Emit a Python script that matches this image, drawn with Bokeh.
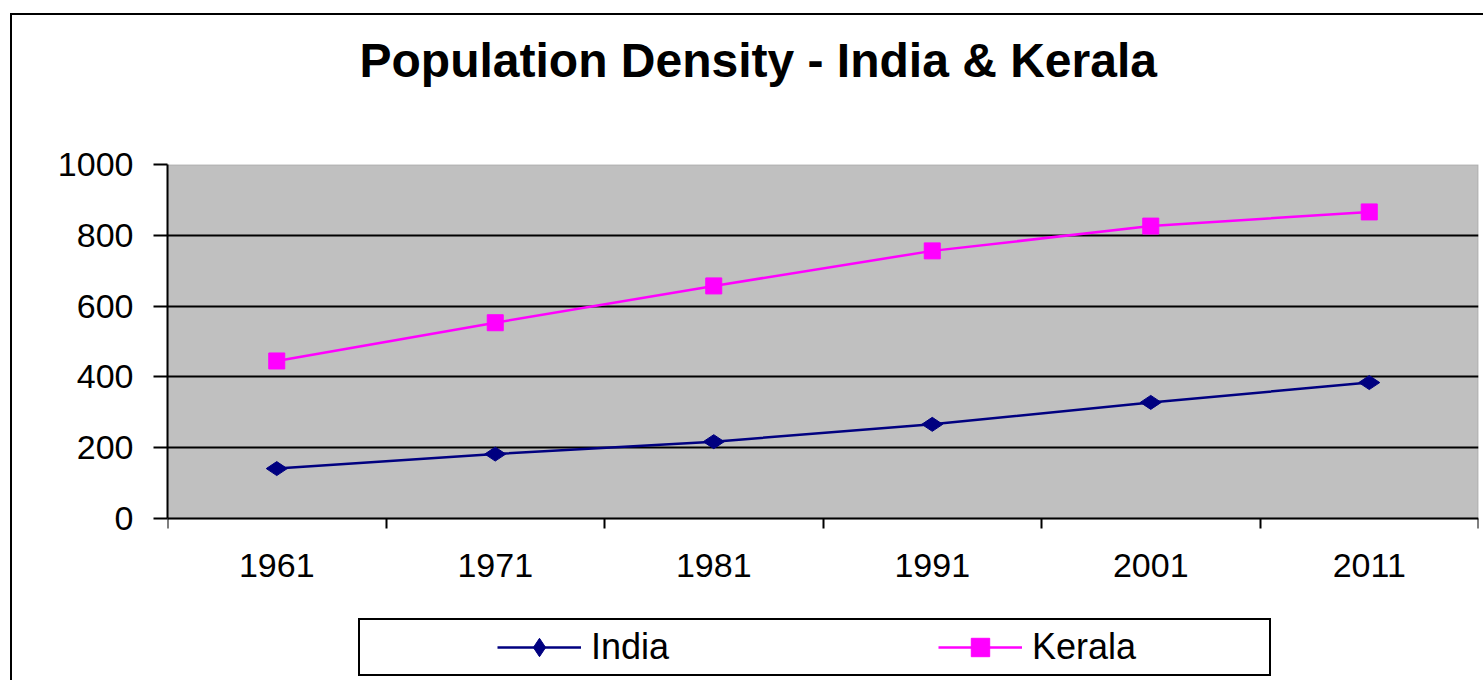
import math
from bokeh.plotting import figure
from bokeh.models import FixedTicker, Legend, LegendItem, Range1d, BoxAnnotation, Title
from bokeh.embed import file_html
from bokeh.resources import INLINE

years = ["1961", "1971", "1981", "1991", "2001", "2011"]
india = [141, 182, 217, 266, 328, 384]
kerala = [445, 553, 657, 756, 826, 866]
y_ticks = [0, 200, 400, 600, 800, 1000]
grid_ticks = [200, 400, 600, 800]
title_text = "Population Density - India & Kerala"

FONT = "Liberation Sans"
W, H = 1483, 680
# frame runs from the plot-area top to the bottom of the canvas; the value axis
# keeps 0..1000 on the grey plot area, the lower band holds the category labels and legend
Y_LOW = -457.6

p = figure(width=W, height=H, output_backend="svg", toolbar_location=None,
           x_range=Range1d(0, len(years)), y_range=Range1d(Y_LOW, y_ticks[-1]),
           min_border_left=167, min_border_right=5, min_border_top=164, min_border_bottom=0)

# outer chart-area border (left/top edges visible, right/bottom beyond the window)
p.border_fill_alpha = 0
p.background_fill_alpha = 0
p.outline_line_alpha = 0
p.styles = {"box-shadow": "inset 10px 13px 0 0 white, inset 12px 15px 0 0 black",
            "background-color": "white"}

xs = [i + 0.5 for i in range(len(years))]

# grey plot area
p.add_layout(BoxAnnotation(left=0, right=len(years), bottom=y_ticks[0], top=y_ticks[-1],
                           fill_color="#C0C0C0", fill_alpha=1,
                           line_color="#808080", line_width=2, level="image"))

p.xgrid.visible = False
p.ygrid.ticker = FixedTicker(ticks=grid_ticks)
p.ygrid.grid_line_color = "black"
p.ygrid.grid_line_width = 2

# title (spacer keeps it up near the top edge)
p.add_layout(Title(text="\u00a0", text_font_size="1px", standoff=75), "above")
p.title.text = title_text
p.title.align = "left"
p.title.vertical_align = "bottom"
p.title.offset = 192
p.title.standoff = 0
p.title.text_font = FONT
p.title.text_font_size = "48px"
p.title.text_font_style = "bold"
p.title.text_color = "black"

# value axis
p.yaxis.bounds = (y_ticks[0], y_ticks[-1])
p.yaxis.ticker = FixedTicker(ticks=y_ticks, minor_ticks=[])
p.yaxis.major_tick_out = 14
p.yaxis.major_tick_in = 0
p.yaxis.major_tick_line_width = 2
p.yaxis.major_tick_line_color = "black"
p.yaxis.axis_line_width = 2
p.yaxis.axis_line_color = "black"
p.yaxis.major_label_standoff = 20
p.yaxis.major_label_text_font = FONT
p.yaxis.major_label_text_font_size = "34px"
p.yaxis.major_label_text_color = "black"

# category axis at value 0: labels at category centres, ticks at category boundaries
p.xaxis.fixed_location = y_ticks[0]
p.xaxis.ticker = FixedTicker(ticks=xs, minor_ticks=list(range(len(years) + 1)))
p.xaxis.major_label_overrides = {x: y for x, y in zip(xs, years)}
p.xaxis.major_tick_out = 0
p.xaxis.major_tick_in = 0
p.xaxis.minor_tick_out = 10
p.xaxis.minor_tick_in = 0
p.xaxis.minor_tick_line_width = 2
p.xaxis.minor_tick_line_color = "black"
p.xaxis.axis_line_width = 2
p.xaxis.axis_line_color = "black"
p.xaxis.major_label_standoff = 25
p.xaxis.major_label_text_font = FONT
p.xaxis.major_label_text_font_size = "34px"
p.xaxis.major_label_text_color = "black"

r1 = p.line(xs, india, line_color="#000080", line_width=2.5)
m1 = p.scatter(xs, india, marker="diamond", size=21, angle=math.pi / 2,
               fill_color="#000080", line_color="#000080")
r2 = p.line(xs, kerala, line_color="#FF00FF", line_width=2.5)
m2 = p.scatter(xs, kerala, marker="square", size=16,
               fill_color="#FF00FF", line_color="#FF00FF")

legend = Legend(items=[LegendItem(label="India", renderers=[r1, m1]),
                       LegendItem(label="Kerala", renderers=[r2, m2])],
                orientation="horizontal", location=(191, 4), padding=4, spacing=114,
                glyph_width=84, glyph_height=46, label_standoff=10, label_width=233,
                label_text_font=FONT, label_text_font_size="36px", label_text_color="black",
                title="\u00a0", title_location="left", title_standoff=122,
                title_text_font_size="10px",
                border_line_color="black", border_line_width=2, border_line_alpha=1,
                background_fill_color="white", background_fill_alpha=1, margin=0)
p.add_layout(legend)

open("out.html", "w").write(file_html(p, INLINE))
